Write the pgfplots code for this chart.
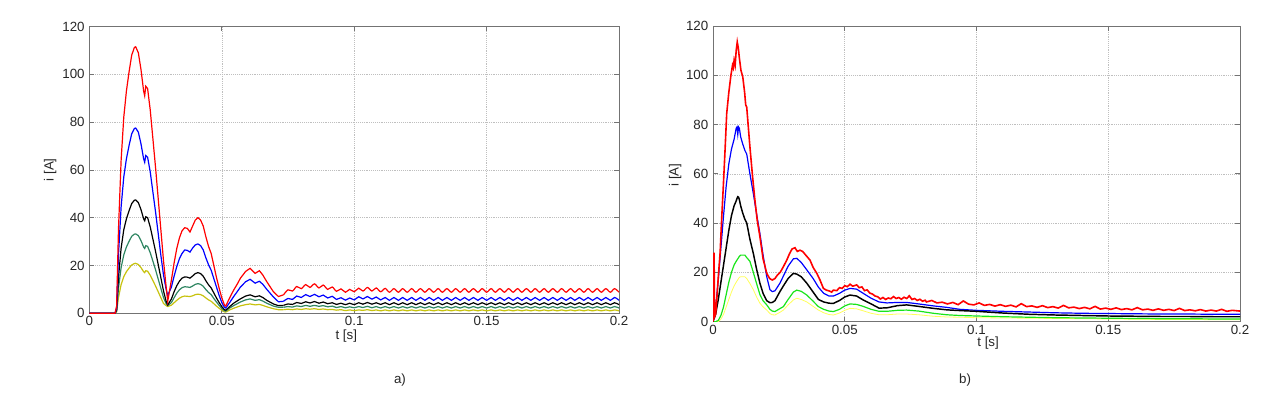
\documentclass[border=0pt]{standalone}
\usepackage{fontspec}
\setmainfont{Liberation Sans}
\usepackage{pgfplots}
\usepackage{pgfplotstable}
\pgfplotsset{compat=1.18}
\definecolor{lgreen}{rgb}{0.18,0.52,0.38}
\definecolor{lyellow}{rgb}{0.78,0.76,0.05}
\definecolor{rgreen}{rgb}{0.1,0.9,0.1}
\definecolor{ryellow}{rgb}{1,1,0.35}
\definecolor{axgray}{gray}{0.45}

% left chart, transient part
\pgfplotstableread{
t r b k g y
0.0000 0 0 0 0 0
0.0097 0 0 0 0 0
0.0103 3 2.1 1.3 0.9 0.6
0.0110 35 24.3 14.9 10.4 6.5
0.0120 64 44.5 27.2 19.1 12.0
0.0130 82 57.0 34.9 24.4 15.3
0.0140 93 64.6 39.5 27.7 17.4
0.0150 101 70.2 42.9 30.1 18.9
0.0160 108 75.1 45.9 32.2 20.2
0.0170 111.2 77.3 47.3 33.1 20.8
0.0175 111.5 77.5 47.4 33.2 20.9
0.0185 109 75.8 46.3 32.5 20.4
0.0195 102 70.9 43.4 30.4 19.1
0.0205 93 64.6 39.5 27.7 17.4
0.0209 91 63.2 38.7 27.1 17.0
0.0213 95 66.0 40.4 28.3 17.8
0.0220 94 65.3 40.0 28.0 17.6
0.0230 85 59.1 36.1 25.3 15.9
0.0240 73 50.7 31.0 21.8 13.7
0.0250 61 42.4 25.9 18.2 11.4
0.0260 48 33.4 20.4 14.3 9.0
0.0270 35 24.3 14.9 10.4 6.5
0.0280 22 16.0 9.4 6.6 4.1
0.0290 11 10.0 5.0 4.0 3.2
0.0296 5 7.5 3.5 3.2 2.8
0.0310 14 11 6 4.5 3.4
0.0320 21 15.5 9 6.5 4.4
0.0330 27 19.5 11.5 8.4 5.4
0.0340 31.5 22.8 13.4 9.8 6.3
0.0350 34.5 25 14.7 10.7 6.9
0.0360 35.8 26.5 15.2 11.1 7.2
0.0370 35.5 26.3 15.1 11.0 7.1
0.0380 34 25.6 14.7 10.8 7.0
0.0390 36.5 27.3 15.6 11.4 7.3
0.0400 39 28.6 16.6 12.1 7.8
0.0410 40 29 17 12.4 8.0
0.0420 39 28.3 16.6 12.1 7.8
0.0430 36.5 26.5 15.5 11.3 7.3
0.0440 32 23.2 13.6 9.9 6.4
0.0450 28 20.3 11.9 8.7 5.6
0.0460 25 18 10.6 7.8 5.0
0.0470 20 14.5 8.5 6.2 4.0
0.0480 15 11 6.4 4.7 3.0
0.0490 10.5 7.5 4.5 3.3 2.1
0.0500 6.5 4.5 2.8 2.0 1.3
0.0510 3.5 2.5 1.5 1.1 0.6
0.0515 3 2.2 1.3 0.9 0.5
0.0530 6.5 4.5 2.8 2.2 1.4
0.0545 9.7 7 4.2 3.2 2.1
0.0560 12.5 9.3 5.3 4.1 2.7
0.0570 14.6 10.9 6.0 4.7 3.1
0.0590 17.5 13.2 7.2 5.6 3.6
0.0607 18.8 14.2 7.7 6.0 3.9
0.0626 16.7 12.6 6.9 5.4 3.5
0.0642 17.8 13.4 7.3 5.7 3.7
0.0655 16 12.1 6.6 5.1 3.3
0.0670 13.2 10 5.4 4.2 2.7
0.0695 9 6.8 3.9 3.0 1.9
0.0714 7 4.8 3.2 2.5 1.5
0.0733 7.7 5.0 3.3 2.5 1.5
}\leftA

% left chart, ripple part
\pgfplotstableread{
t r b k g y
0.0733 7.7 5.0 3.3 2.5 1.5
0.0750 9.8 6.2 3.9 2.8 1.7
0.0767 9.3 5.8 3.7 2.6 1.5
0.0783 11.2 7.2 4.5 3.1 1.8
0.0800 10.3 6.6 4.1 2.8 1.6
0.0817 12.0 7.8 4.8 3.3 1.9
0.0833 10.8 7.0 4.3 2.9 1.7
0.0850 12.3 7.9 4.9 3.3 1.9
0.0867 10.6 6.9 4.2 2.9 1.6
0.0883 11.8 7.6 4.7 3.2 1.8
0.0900 10.0 6.4 4.0 2.7 1.5
0.0917 11.0 7.1 4.4 3.0 1.6
0.0933 9.2 5.8 3.7 2.4 1.3
0.0950 10.2 6.5 4.2 2.8 1.5
0.0967 8.8 5.5 3.6 2.3 1.1
0.0983 10.0 6.4 4.2 2.7 1.4
0.1000 9.0 5.6 3.6 2.3 1.1
0.1017 10.5 6.9 4.4 2.8 1.4
0.1033 9.3 6.0 3.8 2.4 1.2
0.1050 10.8 7.0 4.5 2.9 1.5
0.1067 9.3 5.9 3.8 2.3 1.1
0.1083 10.6 6.8 4.4 2.8 1.4
0.1100 9.0 5.6 3.7 2.2 1.0
0.1117 10.4 6.6 4.4 2.8 1.4
0.1133 8.8 5.4 3.6 2.2 1.0
0.1150 10.3 6.6 4.4 2.8 1.4
0.1167 8.8 5.4 3.6 2.2 1.0
0.1183 10.3 6.6 4.4 2.8 1.4
0.1200 8.8 5.4 3.6 2.2 1.0
0.1217 10.3 6.6 4.4 2.8 1.4
0.1233 8.8 5.4 3.6 2.2 1.0
0.1250 10.3 6.6 4.4 2.8 1.4
0.1267 8.8 5.4 3.6 2.2 1.0
0.1283 10.3 6.6 4.4 2.8 1.4
0.1300 8.8 5.4 3.6 2.2 1.0
0.1317 10.3 6.6 4.4 2.8 1.4
0.1333 8.8 5.4 3.6 2.2 1.0
0.1350 10.3 6.6 4.4 2.8 1.4
0.1367 8.8 5.4 3.6 2.2 1.0
0.1383 10.3 6.6 4.4 2.8 1.4
0.1400 8.8 5.4 3.6 2.2 1.0
0.1417 10.3 6.6 4.4 2.8 1.4
0.1433 8.8 5.4 3.6 2.2 1.0
0.1450 10.3 6.6 4.4 2.8 1.4
0.1467 8.8 5.4 3.6 2.2 1.0
0.1483 10.3 6.6 4.4 2.8 1.4
0.1500 8.8 5.4 3.6 2.2 1.0
0.1517 10.3 6.6 4.4 2.8 1.4
0.1533 8.8 5.4 3.6 2.2 1.0
0.1550 10.3 6.6 4.4 2.8 1.4
0.1567 8.8 5.4 3.6 2.2 1.0
0.1583 10.3 6.6 4.4 2.8 1.4
0.1600 8.8 5.4 3.6 2.2 1.0
0.1617 10.3 6.6 4.4 2.8 1.4
0.1633 8.8 5.4 3.6 2.2 1.0
0.1650 10.3 6.6 4.4 2.8 1.4
0.1667 8.8 5.4 3.6 2.2 1.0
0.1683 10.3 6.6 4.4 2.8 1.4
0.1700 8.8 5.4 3.6 2.2 1.0
0.1717 10.3 6.6 4.4 2.8 1.4
0.1733 8.8 5.4 3.6 2.2 1.0
0.1750 10.3 6.6 4.4 2.8 1.4
0.1767 8.8 5.4 3.6 2.2 1.0
0.1783 10.3 6.6 4.4 2.8 1.4
0.1800 8.8 5.4 3.6 2.2 1.0
0.1817 10.3 6.6 4.4 2.8 1.4
0.1833 8.8 5.4 3.6 2.2 1.0
0.1850 10.3 6.6 4.4 2.8 1.4
0.1867 8.8 5.4 3.6 2.2 1.0
0.1883 10.3 6.6 4.4 2.8 1.4
0.1900 8.8 5.4 3.6 2.2 1.0
0.1917 10.3 6.6 4.4 2.8 1.4
0.1933 8.8 5.4 3.6 2.2 1.0
0.1950 10.3 6.6 4.4 2.8 1.4
0.1967 8.8 5.4 3.6 2.2 1.0
0.1983 10.3 6.6 4.4 2.8 1.4
0.2000 8.8 5.4 3.6 2.2 1.0
}\leftB

% right chart, blue, black, green, yellow
\pgfplotstableread{
t b k g y
0.0000 0 0 0 0
0.0010 6 3 0 0
0.0020 17 9 0.5 0
0.0030 30 16 2.5 1
0.0040 43 23 6 3
0.0050 55 30 11 6
0.0060 64 37 16 9
0.0070 70 43 20 12
0.0080 74 47 23 14.5
0.0088 78.5 49 24.5 16
0.0091 79 50 25 16.5
0.0094 76 50.7 25.5 17
0.0097 79 50.5 26 17.5
0.0100 78.5 49.5 26.5 18
0.0105 75 47 27 18.2
0.0113 72 44 27 18.2
0.0121 69.5 41.5 27 18.2
0.0128 68 40 26 17.5
0.0140 60 33.5 24.5 15.5
0.0153 52 27.7 20 13
0.0165 44 21.5 15.6 10.1
0.0178 35.8 15.6 11 7.5
0.0190 27 11.5 8.5 6
0.0204 18.2 8.5 6.8 4.7
0.0216 13 7.7 5 3.3
0.0225 12.2 7.8 4.3 2.8
0.0235 12.5 8.5 4.1 2.7
0.0254 15.6 12.2 5.3 3.8
0.0267 18.5 14.5 6.1 4.7
0.0285 22.5 17.5 9 6.8
0.0305 25.5 19.6 12 8.8
0.0318 25.7 19.3 12.8 9.5
0.0335 24 18.2 12.3 9.0
0.0356 21 15.6 10.8 8
0.0380 17.5 12 8.3 6.2
0.0400 14 9 6.1 4.7
0.0420 11.5 8 5 3.6
0.0440 10.4 7.5 4.3 2.9
0.0457 10.4 7.4 4.1 2.7
0.0480 11.5 8.6 5.0 3.5
0.0500 12.8 10.0 6.4 4.6
0.0520 13.5 10.8 7.2 5.4
0.0545 13.2 10.4 7.0 5.2
0.0570 11.5 8.8 6.2 4.4
0.0600 9.5 7.2 5.0 3.4
0.0630 8.0 5.5 4.2 2.8
0.0660 7.6 5.6 4.2 2.8
0.0700 7.8 6.5 4.6 3.1
0.0735 7.8 6.8 4.7 3.1
0.0780 7.2 6.2 4.3 2.8
0.0836 6.4 5.4 3.4 2.2
0.0887 5.8 4.8 2.8 1.9
0.0937 5.0 4.5 2.5 1.8
0.1000 4.6 4.2 2.3 1.6
0.1100 4.2 3.5 2.0 1.5
0.1200 3.9 3.0 1.8 1.4
0.1300 3.6 2.7 1.6 1.3
0.1400 3.4 2.5 1.5 1.2
0.1500 3.3 2.3 1.4 1.1
0.1600 3.2 2.2 1.3 1.0
0.1700 3.1 2.1 1.2 0.9
0.1800 3.1 2.1 1.2 0.9
0.1900 3.0 2.0 1.1 0.8
0.2000 3.0 2.0 1.1 0.8
}\rightA

% right chart, red (noisy)
\pgfplotstableread{
t r
0.0000 0
0.0002 27.7
0.0004 27.7
0.0006 2
0.0010 3
0.0015 10
0.0020 18
0.0027 28
0.0033 42
0.0039 54.7
0.0045 68
0.0052 84.5
0.0060 93
0.0068 100
0.0074 104
0.0077 103
0.0080 106
0.0084 104
0.0088 110
0.0092 113.5
0.0096 111
0.0100 107
0.0106 102
0.0113 99.3
0.0120 93
0.0124 88
0.0128 87
0.0134 79
0.0140 71
0.0150 59
0.0159 49.3
0.0168 41
0.0178 34.5
0.0190 25.5
0.0204 19.6
0.0215 17.5
0.0225 16.9
0.0235 17.5
0.0245 19
0.0255 20
0.0267 22.3
0.0280 25
0.0290 27.5
0.0300 29.5
0.0311 30
0.0320 28.5
0.0330 29
0.0340 28.5
0.0356 26.5
0.0368 25
0.0380 22
0.0394 19.6
0.0406 16.9
0.0419 13.5
0.0430 12.8
0.0440 12.5
0.0450 12.0
0.0457 12.8
0.0470 12.6
0.0480 13.8
0.0490 13.5
0.0500 14.6
0.0510 14.2
0.0520 15.2
0.0530 14.4
0.0545 14.9
0.0555 13.8
0.0565 14.1
0.0575 12.6
0.0585 12.9
0.0595 11.6
0.0605 11.2
0.0615 10.4
0.0625 10.1
0.0635 9.2
0.0645 9.8
0.0655 9.0
0.0665 9.6
0.0675 9.3
0.0685 10.2
0.0695 9.4
0.0705 9.8
0.0715 9.1
0.0725 9.9
0.0735 9.4
0.0745 10.5
0.0755 9.0
0.0765 9.4
0.0775 8.6
0.0785 9.1
0.0795 8.3
0.0805 8.7
0.0810 8.0
0.0830 8.6
0.0850 7.6
0.0870 7.9
0.0890 7.2
0.0910 7.8
0.0930 6.9
0.0950 8.4
0.0970 7.1
0.0990 6.8
0.1010 7.6
0.1030 6.6
0.1050 7.0
0.1070 6.3
0.1090 6.9
0.1110 6.2
0.1130 6.7
0.1150 6.0
0.1170 7.3
0.1190 6.1
0.1210 6.4
0.1230 5.8
0.1250 6.5
0.1270 5.7
0.1290 6.1
0.1310 5.5
0.1330 6.6
0.1350 5.6
0.1370 5.9
0.1390 5.3
0.1410 5.8
0.1430 5.2
0.1450 6.2
0.1470 5.1
0.1490 5.5
0.1510 5.0
0.1530 5.6
0.1550 4.9
0.1570 5.3
0.1590 4.8
0.1610 5.7
0.1630 4.8
0.1650 5.1
0.1670 4.6
0.1690 5.2
0.1710 4.6
0.1730 5.0
0.1750 4.5
0.1770 5.4
0.1790 4.5
0.1810 4.8
0.1830 4.4
0.1850 4.9
0.1870 4.3
0.1890 4.7
0.1910 4.3
0.1930 5.0
0.1950 4.2
0.1970 4.6
0.2000 4.3
}\rightR

\pgfplotsset{
  mystyle/.style={
    scale only axis,
    xmin=0, xmax=0.2, ymin=0, ymax=120,
    xtick={0,0.05,0.1,0.15,0.2},
    xticklabels={0,0.05,0.1,0.15,0.2},
    scaled x ticks=false,
    ytick={0,20,40,60,80,100,120},
    grid=major,
    major grid style={densely dotted, gray!50, line width=0.4pt},
    axis line style={axgray, line width=0.5pt},
    tick style={axgray, line width=0.5pt},
    major tick length=3.5pt,
    tick align=inside,
    tick label style={font=\fontsize{10}{12}\selectfont, text=black!85},
    xticklabel style={yshift=1pt},
    label style={font=\fontsize{10}{12}\selectfont, text=black!85},
    /pgf/number format/assume math mode=true,
    xlabel={t [s]},
    ylabel={i [A]},
    clip=true,
  }
}

\begin{document}
\begin{tikzpicture}
\path[use as bounding box] (0,0) rectangle (960pt,299.25pt);

% ---------- left chart a) ----------
\begin{axis}[mystyle,
  at={(67pt,64.3pt)}, anchor=south west,
  width=397.3pt, height=215.1pt,
  xlabel style={at={(axis description cs:0.485,-0.079)}, anchor=center},
  ylabel style={at={(axis description cs:-0.074,0.5)}, anchor=center},
]
\addplot[lyellow, line width=0.9pt] table[x=t, y=y] {\leftA};
\addplot[lyellow, line width=0.9pt, smooth] table[x=t, y=y] {\leftB};
\addplot[lgreen, line width=0.9pt] table[x=t, y=g] {\leftA};
\addplot[lgreen, line width=0.9pt, smooth] table[x=t, y=g] {\leftB};
\addplot[black, line width=0.9pt] table[x=t, y=k] {\leftA};
\addplot[black, line width=0.9pt, smooth] table[x=t, y=k] {\leftB};
\addplot[blue, line width=0.9pt] table[x=t, y=b] {\leftA};
\addplot[blue, line width=0.9pt, smooth] table[x=t, y=b] {\leftB};
\addplot[red, line width=0.9pt] table[x=t, y=r] {\leftA};
\addplot[red, line width=0.9pt, smooth] table[x=t, y=r] {\leftB};
\end{axis}

% ---------- right chart b) ----------
\begin{axis}[mystyle,
  at={(534.75pt,58pt)}, anchor=south west,
  width=395.25pt, height=221.8pt,
  xlabel style={at={(axis description cs:0.522,-0.074)}, anchor=center},
  ylabel style={at={(axis description cs:-0.072,0.496)}, anchor=center},
]
\addplot[ryellow, line width=0.6pt] table[x=t, y=y] {\rightA};
\addplot[rgreen, line width=0.9pt] table[x=t, y=g] {\rightA};
\addplot[blue, line width=0.9pt] table[x=t, y=b] {\rightA};
\addplot[black, line width=1.1pt] table[x=t, y=k] {\rightA};
\addplot[red, line width=1.2pt] table[x=t, y=r] {\rightR};
\end{axis}

\node[font=\fontsize{10}{12}\selectfont, text=black!85] at (300pt,14.25pt) {a)};
\node[font=\fontsize{10}{12}\selectfont, text=black!85] at (723.75pt,14.25pt) {b)};
\end{tikzpicture}
\end{document}
